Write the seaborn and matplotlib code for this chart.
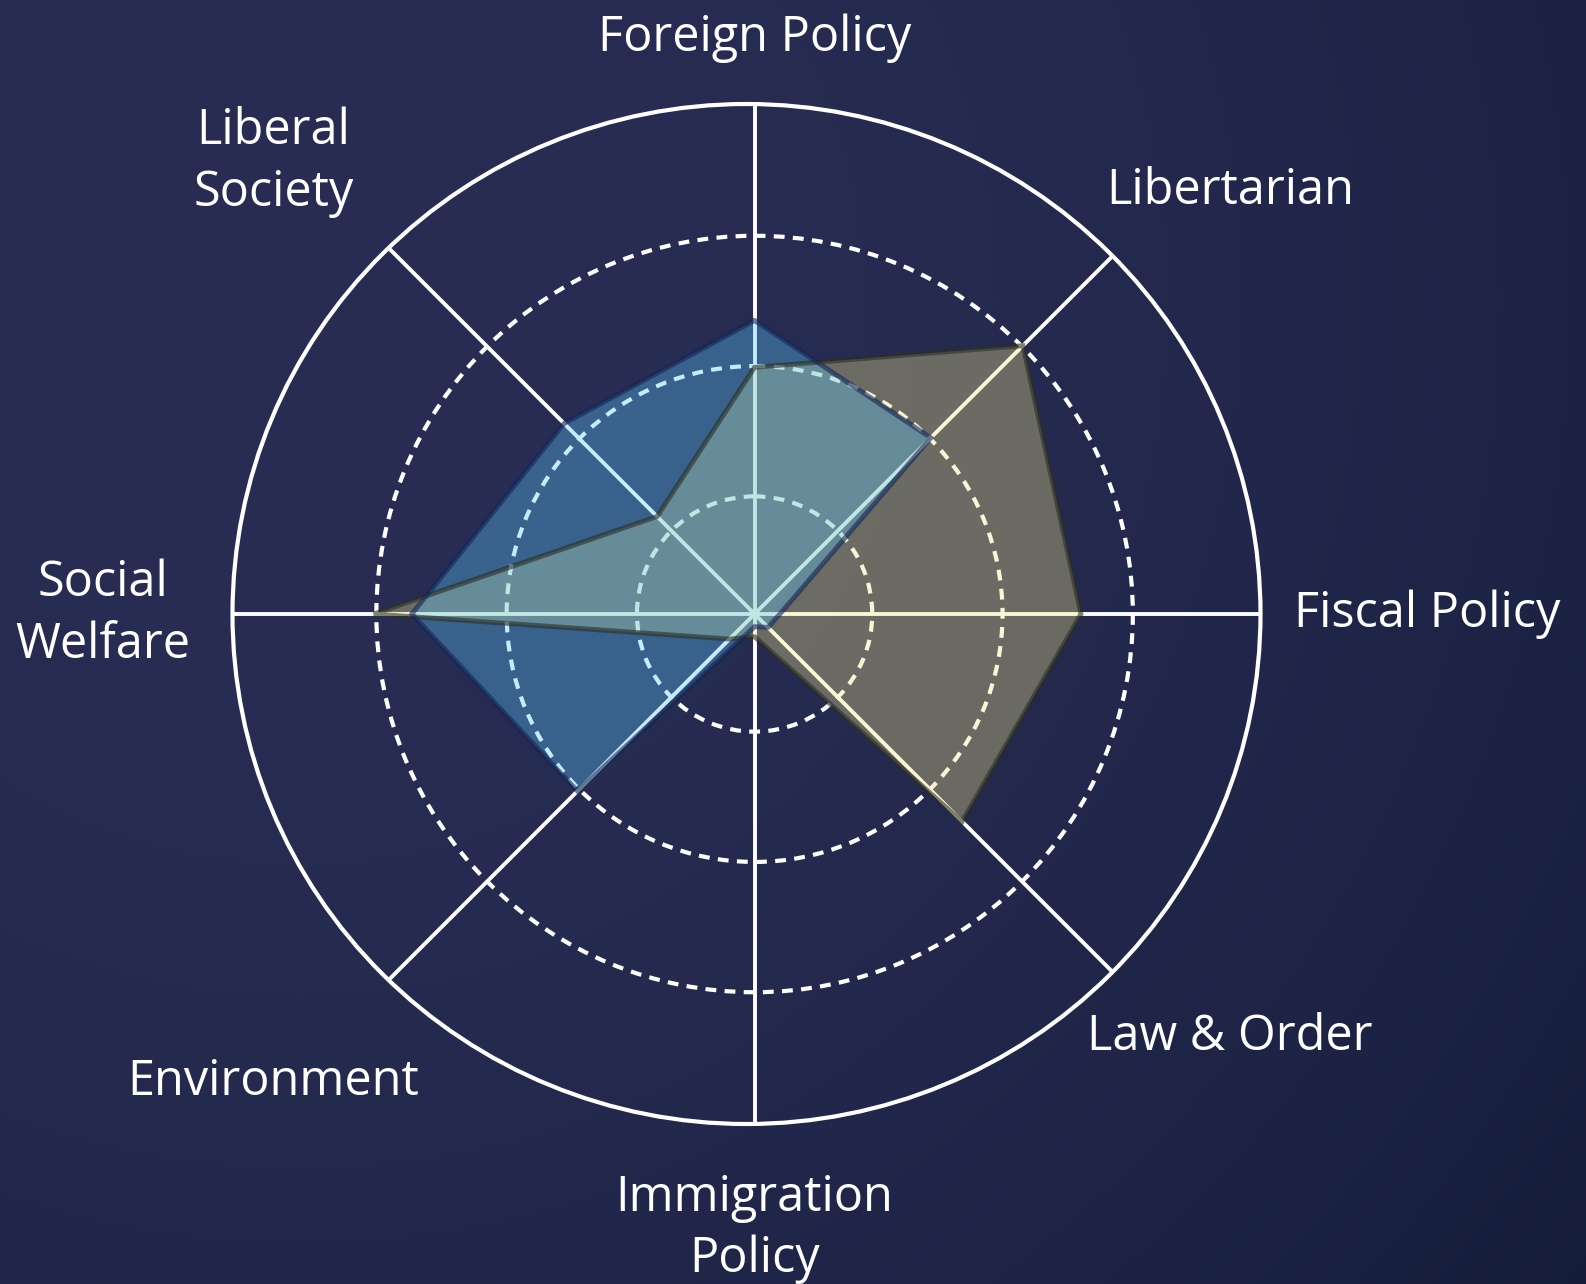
import numpy as np
import pandas as pd
import matplotlib
matplotlib.use("Agg")
import matplotlib.pyplot as plt
from matplotlib.patches import Ellipse
import seaborn as sns

# ---- data ----
categories = ["Foreign Policy", "Libertarian", "Fiscal Policy", "Law & Order",
              "Immigration\nPolicy", "Environment", "Social\nWelfare", "Liberal\nSociety"]
blue_values = [2.32, 1.97, 0.20, 0.15, 0.10, 1.98, 2.71, 2.13]
khaki_values = [1.95, 3.00, 2.58, 2.32, 0.18, 0.28, 3.01, 1.09]
ring_levels = [0.93, 1.96, 2.99]
r_max = 4

# label placement (angle in degrees clockwise from north, radius in data units)
label_angles = [0, 48.4, 90, 131.7, 180, 225.8, 270, 313.2]
label_radii = [4.55, 5.03, 5.32, 5.03, 4.86, 5.31, 5.15, 5.22]

df = pd.DataFrame({"category": categories, "blue": blue_values, "khaki": khaki_values})

sns.set_theme(style="dark")
plt.rcParams["font.family"] = ["Open Sans", "DejaVu Sans"]

W, H = 1586, 1284
fig = plt.figure(figsize=(W / 100, H / 100), dpi=100)

# background gradient (pixel coordinates)
bg_ax = fig.add_axes([0, 0, 1, 1], zorder=-10)
yy, xx = np.mgrid[0:H, 0:W]
d = np.hypot(xx - 300, yy - 300) / 1700.0
t = np.clip(d, 0, 1) ** 2
c0 = np.array([41, 45, 84]) / 255.0
c1 = np.array([18, 27, 55]) / 255.0
img = c0[None, None, :] + t[..., None] * (c1 - c0)[None, None, :]
bg_ax.imshow(img, aspect="auto", extent=[0, W, H, 0])
bg_ax.set_xlim(0, W)
bg_ax.set_ylim(H, 0)
bg_ax.set_axis_off()

# geometry of the chart frame (pixels)
cx, cy, R = 754.6, 614.0, 506.0
ex_off, ea, eb = -8.1, 514.0, 510.0   # outer frame ellipse: offset and semi-axes

n = len(df)
angles = np.linspace(0, 2 * np.pi, n, endpoint=False)

# outer frame and spokes
bg_ax.add_patch(Ellipse((cx + ex_off, cy), 2 * ea, 2 * eb, fill=False,
                        edgecolor="white", linewidth=3.0))
for th in angles:
    ux, uy = np.sin(th), -np.cos(th)
    A = ux ** 2 / ea ** 2 + uy ** 2 / eb ** 2
    B = -2 * ux * ex_off / ea ** 2
    C = ex_off ** 2 / ea ** 2 - 1
    tt = (-B + np.sqrt(B * B - 4 * A * C)) / (2 * A)
    bg_ax.plot([cx, cx + tt * ux], [cy, cy + tt * uy], color="white",
               linewidth=2.8, solid_capstyle="butt")

# polar axes
ax = fig.add_axes([(cx - R) / W, (H - cy - R) / H, 2 * R / W, 2 * R / H], projection="polar")
ax.set_facecolor((0, 0, 0, 0))
ax.set_theta_zero_location("N")
ax.set_theta_direction(-1)
ang_closed = np.concatenate([angles, angles[:1]])

ax.set_ylim(0, r_max)
ax.set_xticks(angles)
ax.set_xticklabels([])
ax.set_yticks(ring_levels)
ax.set_yticklabels([])
ax.set_axisbelow(True)
ax.xaxis.grid(False)
ax.yaxis.grid(True, color="white", linewidth=3.0, linestyle=(0, (2.6, 2.0)))
ax.spines["polar"].set_visible(False)
ax.tick_params(axis="both", length=0, pad=0)

series = [
    ("khaki", "#f0e68c", "#2b2f22"),
    ("blue", "#5ac8fa", "#152555"),
]
for col, face, edge in series:
    vals = np.concatenate([df[col].values, df[col].values[:1]])
    ax.fill(ang_closed, vals, color=face, alpha=0.35, linewidth=0, zorder=2)
    ax.plot(ang_closed, vals, color=edge, alpha=0.6, linewidth=3.5, zorder=3,
            solid_joinstyle="miter")

for lab, a, r in zip(df["category"], label_angles, label_radii):
    ax.text(np.deg2rad(a), r, lab, color="white", fontsize=35, ha="center", va="center",
            linespacing=1.33, clip_on=False)

fig.savefig("out.png", dpi=100)
